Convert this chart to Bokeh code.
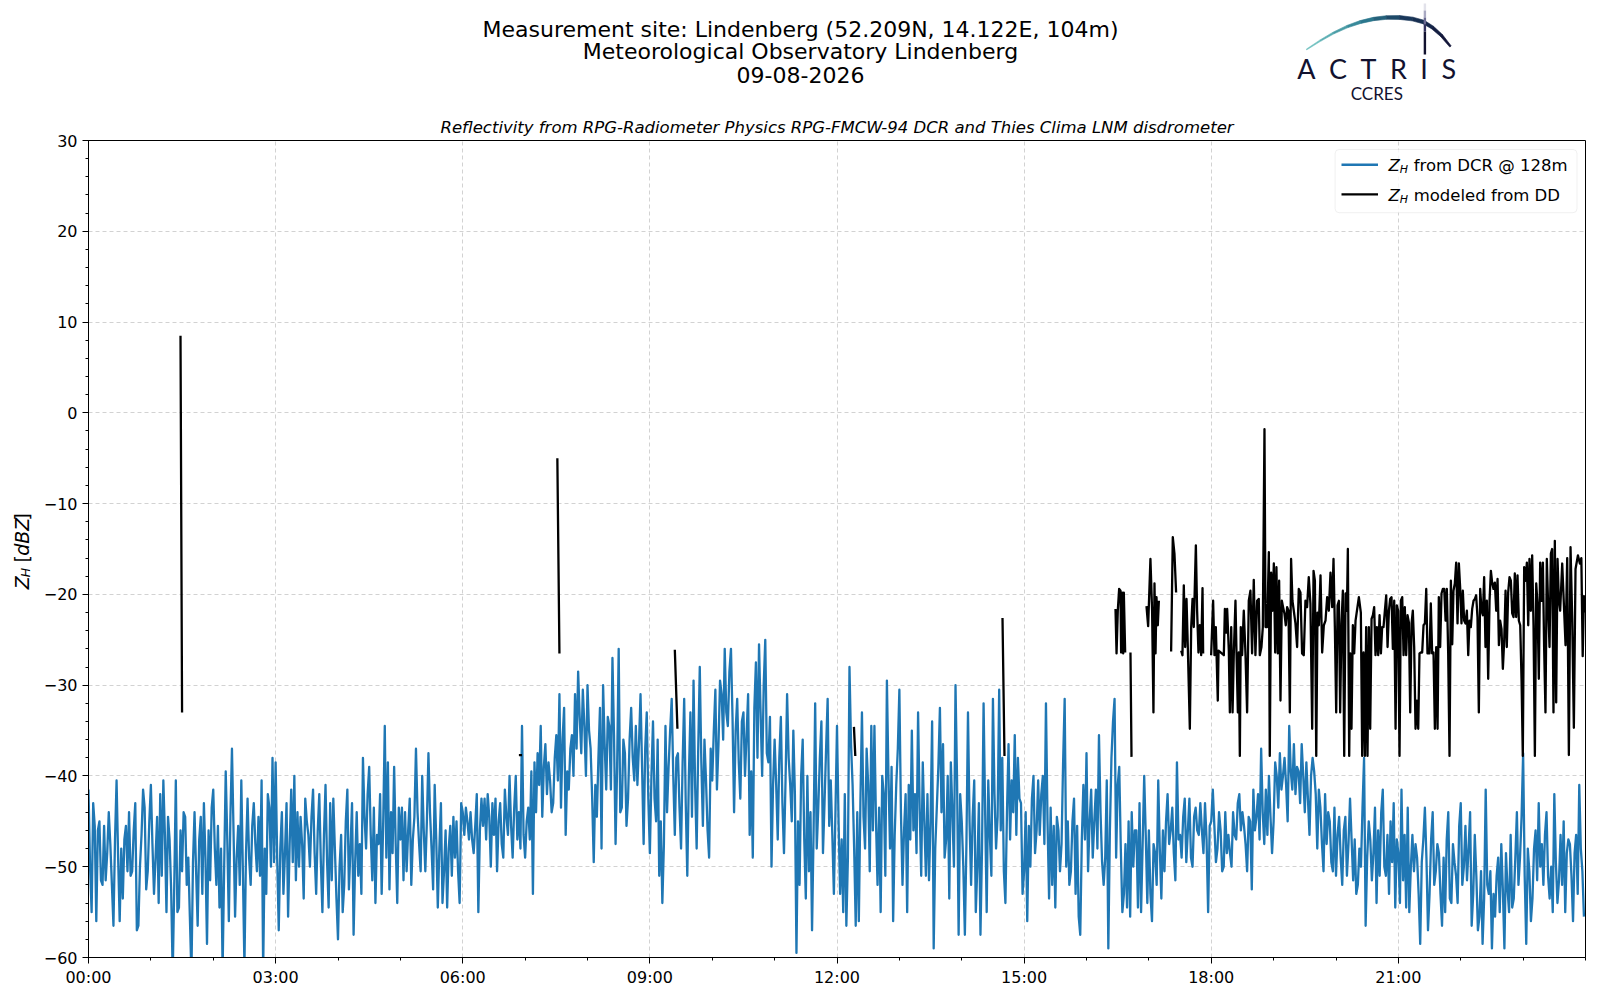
import numpy as np
from bokeh.plotting import figure
from bokeh.layouts import column, row
from bokeh.models import (Range1d, FixedTicker, Label, BoxAnnotation, ColumnDataSource)
from bokeh.core.properties import value
from bokeh.embed import file_html
from bokeh.resources import INLINE

# ---------------- data ----------------
# DCR reflectivity at 128 m: values at minutes 0, 3, 6, ... (20 per hour, one row per hour)
dcr_on_h00_05 = [
    -41.5, -55.0, -45.5, -46.0, -51.5, -45.5, -48.5, -47.5, -56.5, -40.5, -56.0, -53.5, -45.5, -44.0, -50.5, -43.0, -56.5, -46.5, -43.5, -50.5,
    -41.0, -53.0, -44.5, -42.0, -40.5, -55.0, -47.0, -62.0, -40.5, -54.5, -50.5, -44.5, -49.0, -62.0, -44.0, -56.5, -44.5, -43.0, -58.5, -51.5,
    -41.5, -52.0, -54.5, -61.5, -39.5, -56.0, -37.0, -55.5, -45.5, -40.5, -61.0, -42.5, -52.0, -43.0, -50.5, -51.0, -61.5, -53.0, -43.5, -38.0,
    -38.5, -57.0, -44.0, -48.5, -55.5, -41.5, -40.0, -44.0, -44.5, -53.5, -45.0, -50.0, -41.5, -53.0, -42.0, -55.0, -41.0, -54.5, -51.5, -48.0,
    -58.0, -46.5, -52.0, -41.5, -48.0, -57.5, -44.0, -47.5, -38.0, -48.0, -39.0, -51.5, -54.0, -47.5, -53.0, -34.5, -38.5, -44.0, -39.0, -54.0,
    -47.0, -51.5, -50.5, -42.5, -47.0, -37.0, -47.5, -40.0, -50.5, -37.5, -48.0, -41.0, -54.5, -43.0, -50.5, -54.5, -45.5, -44.5, -45.0, -54.0,
]
dcr_on_h06_11 = [
    -44.0, -43.5, -47.0, -47.0, -45.5, -55.0, -42.5, -42.5, -42.0, -50.0, -46.5, -50.5, -43.0, -49.0, -44.5, -40.0, -49.0, -40.0, -44.0, -34.5,
    -49.0, -43.5, -39.5, -38.5, -37.5, -34.5, -39.0, -42.0, -40.5, -43.0, -35.5, -31.0, -36.0, -46.5, -41.5, -35.5, -31.0, -28.5, -37.5, -34.5,
    -30.0, -37.0, -49.5, -44.5, -32.5, -30.0, -41.5, -34.5, -27.0, -47.5, -26.0, -43.5, -37.5, -42.5, -32.5, -40.5, -41.0, -31.0, -47.5, -33.0,
    -48.5, -34.0, -45.0, -51.0, -54.0, -34.5, -39.0, -31.5, -46.5, -37.5, -48.0, -31.5, -51.0, -33.0, -29.5, -48.0, -28.0, -45.5, -40.5, -49.0,
    -40.5, -30.5, -36.5, -31.0, -26.0, -34.5, -26.0, -44.0, -31.5, -42.5, -33.0, -35.5, -46.5, -49.0, -27.5, -25.5, -40.0, -25.0, -38.5, -50.0,
    -36.0, -47.0, -33.5, -48.5, -31.0, -41.0, -35.0, -59.5, -52.0, -36.0, -53.5, -50.5, -57.0, -32.0, -43.5, -34.0, -43.0, -31.5, -40.5, -53.0,
]
dcr_on_h12_17 = [
    -34.5, -53.0, -55.0, -56.5, -28.0, -41.0, -56.5, -56.0, -33.0, -48.0, -41.0, -34.5, -34.5, -52.0, -55.0, -42.0, -29.5, -48.0, -56.0, -41.0,
    -30.5, -52.0, -42.0, -41.0, -35.0, -42.0, -33.0, -51.0, -45.0, -42.0, -45.0, -59.0, -43.5, -32.5, -36.5, -47.0, -53.5, -44.0, -30.0, -57.5,
    -45.0, -57.5, -33.0, -52.0, -40.5, -50.0, -57.5, -32.0, -55.0, -46.5, -31.5, -48.0, -30.5, -38.0, -54.0, -36.5, -40.5, -35.5, -38.0, -43.0,
    -50.5, -56.0, -50.0, -40.0, -46.0, -46.5, -40.0, -32.0, -53.5, -52.0, -54.5, -46.0, -47.5, -31.5, -45.0, -50.5, -42.5, -45.5, -57.5, -41.0,
    -37.5, -45.0, -49.0, -41.5, -35.5, -49.5, -49.0, -59.0, -38.0, -31.5, -41.0, -48.0, -53.0, -54.5, -55.5, -50.0, -46.0, -43.0, -47.5, -46.5,
    -46.0, -56.0, -48.5, -40.5, -53.5, -50.5, -42.0, -46.0, -48.5, -38.5, -46.5, -44.5, -49.5, -42.5, -50.0, -43.5, -46.5, -46.0, -43.0, -55.0,
]
dcr_on_h18_23 = [
    -45.0, -45.5, -48.0, -46.0, -50.0, -48.5, -48.5, -44.0, -47.0, -42.0, -44.0, -47.5, -44.5, -52.5, -46.0, -42.0, -37.0, -47.5, -46.5, -44.5,
    -45.0, -40.0, -37.5, -40.0, -41.0, -34.5, -41.5, -42.0, -39.5, -36.5, -44.0, -42.5, -40.0, -39.5, -48.0, -43.5, -50.5, -47.5, -45.0, -50.5,
    -51.0, -44.5, -52.0, -44.5, -47.5, -47.0, -47.0, -52.0, -50.0, -38.0, -49.0, -47.0, -48.5, -54.0, -51.0, -41.5, -51.0, -53.0, -49.5, -54.5,
    -48.5, -41.5, -46.5, -43.5, -50.0, -50.5, -49.0, -58.5, -47.0, -49.0, -53.0, -44.0, -50.5, -48.5, -56.5, -55.0, -44.0, -54.0, -49.5, -54.0,
    -43.0, -50.0, -51.5, -44.0, -53.0, -51.0, -55.5, -58.5, -41.5, -53.0, -59.0, -55.5, -49.0, -47.5, -59.0, -52.5, -46.5, -53.5, -44.0, -49.0,
    -37.5, -58.5, -50.5, -53.5, -46.0, -43.0, -47.5, -46.5, -51.0, -50.0, -42.0, -54.0, -46.5, -45.0, -48.5, -47.5, -56.0, -46.5, -41.0, -50.5,
]
# DCR reflectivity at minutes 1.5, 4.5, 7.5, ... (20 per hour, one row per hour)
dcr_half_h00_05 = [
    -50.0, -43.0, -56.0, -45.0, -52.0, -51.5, -44.0, -52.0, -47.0, -49.0, -48.0, -47.0, -50.5, -51.0, -46.0, -57.0, -50.0, -41.5, -52.5, -45.0,
    -47.5, -49.0, -54.0, -51.0, -46.5, -44.5, -52.5, -52.0, -55.0, -46.0, -44.0, -52.0, -55.5, -49.5, -50.5, -47.0, -53.0, -49.0, -46.0, -43.5,
    -48.0, -45.5, -48.0, -50.0, -47.0, -44.5, -46.0, -49.0, -52.0, -50.5, -48.5, -49.0, -45.5, -47.5, -44.5, -40.5, -48.0, -42.0, -50.0, -49.5,
    -49.0, -48.0, -53.0, -43.0, -47.5, -49.5, -51.5, -50.0, -47.5, -42.5, -46.5, -44.5, -48.5, -46.0, -49.5, -46.5, -49.5, -43.0, -42.5, -53.5,
    -50.0, -55.0, -45.0, -52.5, -43.0, -49.5, -51.0, -53.0, -44.5, -42.0, -46.5, -43.5, -46.5, -42.0, -45.0, -49.0, -52.5, -48.5, -47.5, -43.5,
    -43.5, -44.0, -46.0, -52.0, -44.5, -44.0, -50.5, -46.0, -45.0, -44.0, -52.5, -47.0, -48.0, -54.0, -46.0, -48.0, -51.0, -49.0, -50.5, -43.0,
]
dcr_half_h06_11 = [
    -46.5, -45.0, -44.0, -48.5, -42.0, -46.0, -45.5, -47.0, -44.5, -43.0, -42.5, -45.0, -47.5, -41.5, -46.5, -45.5, -43.5, -47.0, -48.0, -46.5,
    -45.0, -47.0, -53.0, -44.0, -41.0, -44.5, -36.5, -38.5, -44.0, -38.0, -40.5, -43.5, -32.5, -39.5, -37.0, -40.0, -37.0, -33.5, -30.5, -40.0,
    -35.0, -42.5, -41.0, -38.0, -48.0, -36.5, -33.5, -41.5, -35.5, -39.0, -44.0, -36.0, -45.5, -36.0, -38.0, -34.5, -36.5, -39.0, -37.0, -42.5,
    -40.0, -42.5, -36.0, -45.0, -47.5, -44.0, -35.0, -40.0, -38.0, -43.5, -38.5, -43.0, -40.0, -44.5, -41.0, -37.0, -38.5, -36.0, -46.0, -37.0,
    -35.0, -41.5, -29.5, -36.0, -33.0, -28.5, -33.5, -35.0, -38.5, -34.0, -40.0, -31.0, -39.5, -32.5, -38.0, -33.0, -30.0, -37.5, -33.5, -41.0,
    -41.0, -38.0, -43.0, -40.5, -38.0, -45.0, -42.0, -45.0, -40.0, -47.0, -40.0, -44.0, -46.0, -48.0, -38.0, -48.5, -37.0, -45.5, -46.5, -44.0,
]
dcr_half_h12_17 = [
    -45.0, -47.0, -42.0, -49.0, -36.5, -48.0, -44.0, -43.0, -44.5, -37.0, -50.5, -46.0, -45.0, -43.5, -40.0, -51.0, -40.0, -39.0, -46.5, -37.0,
    -44.0, -46.0, -55.0, -47.0, -46.0, -48.5, -43.5, -38.5, -51.0, -51.5, -34.0, -48.0, -39.0, -44.0, -49.0, -40.0, -38.5, -50.0, -40.5, -42.0,
    -50.0, -47.5, -45.0, -44.5, -55.0, -43.0, -48.0, -44.0, -40.5, -51.0, -42.0, -44.5, -46.0, -50.5, -44.0, -47.0, -44.0, -46.5, -42.5, -53.0,
    -44.0, -45.5, -42.5, -48.5, -40.5, -42.0, -47.5, -45.0, -43.5, -45.5, -44.5, -50.5, -38.5, -50.0, -52.0, -45.0, -53.0, -55.5, -47.0, -47.0,
    -50.5, -41.5, -45.0, -48.0, -44.0, -52.0, -40.5, -46.0, -34.0, -49.0, -39.0, -55.0, -47.5, -45.0, -44.0, -46.0, -54.5, -55.0, -40.0, -54.0,
    -53.0, -47.5, -52.0, -48.0, -46.0, -45.0, -47.5, -43.5, -51.5, -47.0, -49.0, -42.5, -46.0, -49.0, -44.5, -46.0, -43.0, -48.5, -47.0, -45.5,
]
dcr_half_h18_23 = [
    -41.5, -49.5, -44.0, -50.5, -44.0, -46.5, -50.0, -46.5, -43.0, -46.0, -45.5, -50.5, -45.0, -41.5, -44.5, -47.0, -44.0, -41.5, -40.0, -48.5,
    -38.5, -43.5, -41.5, -38.0, -45.0, -39.5, -36.5, -39.0, -43.0, -40.0, -38.5, -46.5, -38.0, -42.0, -41.5, -47.5, -42.0, -44.0, -49.5, -43.5,
    -46.5, -49.0, -46.0, -51.0, -42.5, -51.5, -53.0, -48.0, -43.5, -56.5, -45.0, -51.5, -43.5, -46.0, -44.0, -50.0, -46.5, -45.0, -43.0, -47.0,
    -54.0, -51.5, -54.5, -55.0, -46.5, -47.5, -53.0, -49.5, -43.5, -57.0, -47.0, -52.0, -47.5, -53.0, -49.0, -47.0, -53.5, -47.5, -51.0, -45.5,
    -52.0, -45.5, -48.0, -56.5, -46.5, -57.0, -50.5, -53.5, -52.0, -50.5, -53.0, -51.0, -55.0, -52.5, -48.5, -55.0, -54.5, -49.0, -52.0, -44.5,
    -51.0, -48.0, -56.0, -48.0, -51.5, -50.0, -52.0, -44.0, -53.5, -55.0, -49.5, -51.5, -52.0, -55.0, -47.0, -51.0, -48.5, -53.0, -48.0, -55.5,
]
dcr_on = dcr_on_h00_05 + dcr_on_h06_11 + dcr_on_h12_17 + dcr_on_h18_23
dcr_half = dcr_half_h00_05 + dcr_half_h06_11 + dcr_half_h12_17 + dcr_half_h18_23
assert len(dcr_on) == 480 and len(dcr_half) == 480, (len(dcr_on), len(dcr_half))
dcr_minutes = []
dcr_dbz = []
for k in range(480):
    dcr_minutes += [3.0 * k, 3.0 * k + 1.5]
    dcr_dbz += [dcr_on[k], dcr_half[k]]

# Disdrometer-modelled reflectivity (minutes of day, dBZ); None = no data
dd_minutes = [
    88.5, 90.0, None, 414.0, 417.0, None, 451.0, 453.0, None, 564.0, 566.5, None,
    736.3, 737.6, None, 879.2, 881.1, None,
    987.9, 988.9, 990.1, 991.4, 992.7, 993.3, 994.3, 995.3, 995.9, 997.2, None,
    1002.3, 1003.3, None,
    1017.7, 1019.3, 1021.5, 1023.1, 1024.4, 1025.4, 1026.4, 1027.3, 1028.6, 1029.6, None,
    1041.4, 1043.0, 1044.6, 1046.2, None,
    1051.1, 1052.3, 1053.6, 1054.9, 1056.2, 1057.5, 1059.4, 1060.7, 1062.0, 1063.2, 1065.2, 1066.4,
    1067.7, 1069.0, 1070.3, 1071.6, 1072.2, None,
    1079.9, 1081.8, 1083.1, 1084.4, 1086.3, 1087.0, 1092.1, 1093.1, 1094.4, 1095.3, 1096.9, 1097.9,
    1099.2, 1100.5, 1101.7, 1103.3, 1104.3, 1105.6, 1106.5, 1107.5, 1108.4, 1109.7, 1111.3, 1112.9,
    1114.5, 1116.1, 1117.7, 1119.3, 1120.9, 1122.5, 1124.1, 1125.7, 1126.7, 1128.3, 1129.6, 1131.2,
    1132.2, 1133.8, 1135.4, 1136.3, 1137.6, 1138.9, 1140.2, 1141.5, 1142.7, 1144.0, 1145.3, 1146.6,
    1147.9, 1149.1, 1150.4, 1151.7, 1153.0, 1154.3, 1155.6, 1156.8, 1158.1, 1159.4, 1161.0, 1162.6,
    1164.2, 1165.8, 1167.4, 1169.0, 1170.6, 1172.2, 1173.8, 1175.4,
    1177.1, 1178.4, 1179.7, 1181.0, 1182.2, 1183.5, 1185.1, 1186.7, 1188.3, 1189.9, 1191.5, 1193.1,
    1194.7, 1196.3, 1197.6, 1198.9, 1200.2, 1201.5, 1202.8, 1204.0, 1205.3, 1206.6, 1207.9, 1209.2,
    1210.5, 1211.4, 1212.7, 1213.7, 1214.9, 1216.2, 1217.5, 1218.8,
    1222.0, 1223.9, 1225.2, 1226.5, 1227.8, 1229.0, 1230.3, 1231.6, 1232.9, 1234.2, 1235.5, 1236.7,
    1238.0, 1239.3, 1240.6, 1241.9, 1243.2, 1244.4, 1245.7, 1247.0, 1248.3, 1249.6, 1250.9, 1252.1,
    1253.4, 1254.7, 1256.0, 1257.3, 1258.5, 1259.8, 1261.1, 1262.4, 1263.7, 1265.0, 1266.2, 1267.5,
    1268.8, 1270.1, 1271.4, 1272.7, 1273.9, 1275.2, 1276.5, 1277.8, 1279.1, 1280.3, 1281.6, 1282.9,
    1284.2, 1285.5, 1286.8, 1288.0, 1290.0, 1291.2, 1292.5, 1293.8, 1295.1, 1296.4, 1297.7, 1298.9,
    1300.2, 1301.5, 1302.8, 1304.1, 1305.4, 1306.6, 1307.9, 1309.2, 1310.5, 1311.8, 1313.0, 1314.3,
    1315.6, 1316.9, 1318.2, 1319.5, 1320.7, 1322.0, 1323.3, 1324.6, 1325.9, 1327.2, 1328.4, 1329.7,
    1331.0, 1332.3, 1333.6, 1334.8, 1336.1, 1337.4, 1338.7, 1340.0, 1341.3, 1342.5, 1343.8, 1345.1,
    1346.4, 1347.7, 1349.0, 1350.2, 1351.5, 1352.8, 1354.1, 1355.4, 1356.7, 1357.9, 1359.2, 1360.5,
    1361.8, 1363.1, 1364.3, 1365.6, 1366.9, 1368.2, 1369.5, 1370.8, 1372.0, 1373.3, 1374.6, 1375.9,
    1377.2, 1378.5, 1379.7, 1381.0, 1382.3, 1383.6, 1384.9, 1386.1, 1387.4, 1388.7, 1390.0, 1391.3,
    1392.6, 1393.8, 1395.1, 1396.4, 1397.7, 1399.0, 1400.2, 1401.5, 1402.8, 1404.1, 1405.4, 1406.7,
    1407.9, 1409.2, 1410.5, 1411.8, 1413.1, 1414.4, 1415.6,
    1417.6, 1420.8, 1422.4, 1424.0, 1425.6, 1427.2, 1428.8, 1430.4, 1432.7, 1434.6, 1436.0, 1437.3,
    1438.5, 1439.5,
]
dd_dbz = [
    8.5, -33.0, None, -37.7, -37.7, None, -5.0, -26.5, None, -26.1, -34.8, None,
    -34.6, -37.8, None, -22.6, -37.8, None,
    -21.6, -26.5, -21.8, -19.4, -19.6, -26.4, -19.8, -26.5, -19.8, -26.4, None,
    -26.4, -37.9, None,
    -21.3, -23.5, -16.1, -21.8, -33.0, -18.8, -26.5, -20.3, -23.4, -20.7, None,
    -26.3, -13.7, -15.5, -19.8, None,
    -26.2, -26.7, -19.0, -25.8, -20.5, -26.0, -34.8, -23.6, -20.5, -23.6, -14.6, -21.8,
    -26.4, -23.4, -26.7, -19.3, -26.5, None,
    -26.7, -20.7, -26.7, -23.6, -31.7, -26.2, -26.7, -21.6, -24.2, -21.6, -26.2, -33.0,
    -23.6, -33.0, -26.5, -20.7, -26.5, -33.0, -26.4, -37.8, -23.6, -26.7, -21.8, -26.5,
    -33.0, -20.7, -19.6, -26.5, -18.4, -26.7, -20.7, -20.5, -26.7, -25.8, -23.6, -1.8,
    -23.6, -23.6, -15.35, -37.8, -17.6, -21.8, -16.6, -26.4, -17.0, -26.5, -18.5, -31.7,
    -20.7, -21.4, -22.1, -23.4, -21.4, -21.8, -33.0, -16.1, -20.7, -21.8, -23.2, -25.8,
    -19.4, -19.8, -26.5, -26.7, -20.7, -21.4, -18.1, -21.0,
    -34.8, -17.4, -18.5, -37.8, -22.0, -23.4, -17.9, -26.4, -23.4, -22.9, -20.3, -21.8,
    -17.6, -21.4, -16.1, -23.6, -33.0, -21.2, -20.7, -33.0, -23.2, -19.6, -37.8, -19.9,
    -21.8, -15.0, -37.8, -26.5, -34.8, -23.4, -26.5, -22.9,
    -20.3, -22.0, -37.8, -26.4, -37.8, -23.6, -37.8, -23.6, -34.8, -22.7, -22.3, -21.4,
    -26.7, -23.6, -26.7, -22.3, -26.5, -23.6, -23.6, -21.8, -20.1, -25.8, -21.8, -20.5,
    -20.3, -26.0, -20.7, -34.8, -21.2, -21.8, -37.8, -20.7, -20.3, -26.7, -21.4, -26.7,
    -22.3, -23.1, -33.0, -23.2, -21.8, -25.8, -34.8, -31.7, -34.8, -26.5, -26.4, -26.4,
    -23.4, -23.2, -19.4, -26.5, -26.5, -21.0, -26.5, -26.4, -34.8, -25.8, -34.8, -20.3,
    -25.8, -19.9, -19.4, -19.4, -22.9, -19.4, -26.4, -37.8, -18.5, -25.5, -19.6, -18.8,
    -16.5, -23.2, -16.6, -19.4, -23.2, -19.6, -22.9, -23.2, -21.8, -26.7, -22.9, -23.6,
    -21.6, -20.7, -20.5, -20.1, -22.5, -33.0, -19.4, -21.8, -22.3, -18.1, -25.8, -20.7,
    -29.3, -20.7, -17.4, -18.7, -19.4, -18.7, -21.8, -18.3, -25.6, -22.9, -23.8, -28.2,
    -25.1, -19.6, -25.8, -19.8, -18.1, -18.5, -22.1, -22.5, -17.7, -22.5, -17.9, -22.9,
    -23.4, -29.5, -37.8, -17.0, -18.5, -16.5, -23.4, -16.1, -21.8, -15.7, -23.4, -37.8,
    -18.8, -21.0, -29.3, -16.5, -20.7, -16.5, -25.8, -33.0, -16.1, -21.4, -25.8, -15.5,
    -15.0, -33.0, -14.1, -31.9, -16.1, -20.7, -21.8,
    -16.6, -25.6, -16.0, -37.7, -14.8, -22.6, -34.7, -17.2, -15.7, -16.6, -16.0, -26.8,
    -20.2, -22.0,
]
assert len(dd_dbz) == len(dd_minutes), (len(dd_dbz), len(dd_minutes))

x_tick_hours = [0, 3, 6, 9, 12, 15, 18, 21]
x_tick_labels = ["00:00", "03:00", "06:00", "09:00", "12:00", "15:00", "18:00", "21:00"]
y_ticks = [-60, -50, -40, -30, -20, -10, 0, 10, 20, 30]
y_tick_labels = ["\u221260", "\u221250", "\u221240", "\u221230", "\u221220", "\u221210", "0", "10", "20", "30"]

title_lines = ["Measurement site: Lindenberg (52.209N, 14.122E, 104m)",
               "Meteorological Observatory Lindenberg",
               "09-08-2026"]
subtitle = "Reflectivity from RPG-Radiometer Physics RPG-FMCW-94 DCR and Thies Clima LNM disdrometer"
legend_texts = ["from DCR @ 128m", "modeled from DD"]

BLUE = "#1f77b4"
FONT = "DejaVu Sans"
NAVY = "#12122f"

# page layout (page pixel coordinates; frame of the main plot at x 88..1585, y 140..957)
HEAD_H = 110
BODY_H = 885
LEFT_W = 40
MAIN_W = 1560


def blank(width, height, x0, x1, y_top, y_bottom):
    f = figure(width=width, height=height, output_backend="svg", toolbar_location=None, tools="",
               x_range=Range1d(x0, x1), y_range=Range1d(-y_bottom, -y_top),
               x_axis_type=None, y_axis_type=None, min_border=0, title=None,
               background_fill_color="white", border_fill_color="white")
    f.outline_line_color = None
    return f


# text anchor = vertical centre of the capitals (as rendered here)
def txt(f, text, X, Y, size, style="normal", align="left", angle=0.0, color="black", font=FONT):
    f.text(x=[X], y=[-Y], text=[text], text_font=value(font), text_font_size=value(f"{size}px"),
           text_font_style=style, text_align=align, text_baseline="alphabetic",
           angle=angle, text_color=color)


# ---------------- header: titles and logo ----------------
head = blank(1600, HEAD_H, 0, 1600, 0, HEAD_H)
txt(head, title_lines[0], 800, 28.6, 22, align="center")
txt(head, title_lines[1], 800, 51.0, 22, align="center")
txt(head, title_lines[2], 800, 74.5, 22, align="center")

txt(head, "A\u2002C\u2002T\u2002R\u2002I\u2002S", 1296.7, 68.3, 27, font="Lato", color=NAVY)
txt(head, "CCRES", 1376.3, 92.8, 17, align="center", font="Lato", color=NAVY)

arc_pts = [(1306, 49), (1320, 40), (1333, 32.5), (1347, 26), (1360, 21.5), (1373, 18.5),
           (1386, 17), (1399, 17), (1412, 18.5), (1423, 21.5), (1432, 27), (1441, 35), (1450, 46)]
arc_w = [0.8, 1.4, 1.9, 2.4, 2.9, 3.3, 3.6, 3.8, 3.8, 3.6, 3.2, 2.6, 1.8]
stops = [(0.0, (112, 198, 194)), (0.35, (45, 126, 146)), (0.6, (26, 58, 92)), (1.0, (16, 16, 52))]


def grad(fr):
    for (f0, c0), (f1, c1) in zip(stops[:-1], stops[1:]):
        if fr <= f1:
            u = (fr - f0) / (f1 - f0)
            c = [round(a + (b - a) * u) for a, b in zip(c0, c1)]
            return "#%02x%02x%02x" % tuple(c)
    return "#%02x%02x%02x" % stops[-1][1]


P = np.array(arc_pts, dtype=float)
n = len(P)
normals = []
for i in range(n):
    a = P[max(i - 1, 0)]
    b = P[min(i + 1, n - 1)]
    t = (b - a) / np.hypot(*(b - a))
    normals.append(np.array([-t[1], t[0]]))
for i in range(n - 1):
    quad = [P[i] + normals[i] * arc_w[i] / 2, P[i + 1] + normals[i + 1] * arc_w[i + 1] / 2,
            P[i + 1] - normals[i + 1] * arc_w[i + 1] / 2, P[i] - normals[i] * arc_w[i] / 2]
    col = grad((i + 0.5) / (n - 1))
    head.patch(x=[q[0] for q in quad], y=[-q[1] for q in quad], fill_color=col,
               line_color=col, line_width=0.6)

stem = [(3, 10, "#e2e2ea"), (10, 17, "#a9a9c2"), (17, 24, "#6b6b92"), (24, 31, "#34345f"),
        (31, 54, NAVY)]
for y0, y1, c in stem:
    head.quad(left=[1423.2], right=[1425.6], top=[-y0], bottom=[-y1], fill_color=c, line_color=None)

# ---------------- left strip: y-axis label Z_H [dBZ] (reads upwards) ----------------
left = blank(LEFT_W, BODY_H, 0, LEFT_W, HEAD_H, HEAD_H + BODY_H)
A = np.pi / 2
DY = 4.5
LX = 21.9
txt(left, "Z", LX, 591.7 + DY, 19, style="italic", angle=A)
txt(left, "H", LX + 3.5, 578.7 + DY, 12.5, style="italic", angle=A)
txt(left, "[", LX, 562.7 + DY, 19, angle=A)
txt(left, "dBZ", LX, 555.3 + DY, 19, style="italic", angle=A)
txt(left, "]", LX, 517.2 + DY, 19, angle=A)

# ---------------- main plot ----------------
p = figure(width=MAIN_W, height=BODY_H, output_backend="svg", toolbar_location=None, tools="",
           x_range=Range1d(0, 24), y_range=Range1d(-60, 30), title=subtitle,
           min_border_left=88 - LEFT_W, min_border_right=1600 - 1585,
           min_border_top=140 - HEAD_H, min_border_bottom=HEAD_H + BODY_H - 957,
           background_fill_color="white", border_fill_color="white")
p.title.align = "center"
p.title.text_font = FONT
p.title.text_font_style = "italic"
p.title.text_font_size = "16.5px"
p.title.text_color = "black"
p.title.standoff = 7

dcr_src = ColumnDataSource(dict(h=np.array(dcr_minutes, dtype=float) / 60.0,
                                dbz=np.array(dcr_dbz, dtype=float)))
dd_src = ColumnDataSource(dict(h=np.array(dd_minutes, dtype=float) / 60.0,
                               dbz=np.array(dd_dbz, dtype=float)))
p.line(x="h", y="dbz", source=dcr_src, line_color=BLUE, line_width=2.3, line_join="round")
p.line(x="h", y="dbz", source=dd_src, line_color="black", line_width=2.3, line_join="round")

xt = FixedTicker(ticks=x_tick_hours, minor_ticks=list(range(0, 25)))
yt = FixedTicker(ticks=y_ticks, minor_ticks=list(range(-60, 31, 2)))
p.xaxis.ticker = xt
p.yaxis.ticker = yt
p.xgrid.ticker = xt
p.ygrid.ticker = yt
p.xaxis.major_label_overrides = dict(zip(x_tick_hours, x_tick_labels))
p.yaxis.major_label_overrides = dict(zip(y_ticks, y_tick_labels))
for ax in (p.xaxis, p.yaxis):
    ax.major_label_text_font = FONT
    ax.major_label_text_font_size = "16px"
    ax.major_label_text_color = "black"
    ax.axis_line_color = "black"
    ax.major_tick_line_color = "black"
    ax.minor_tick_line_color = "black"
    ax.major_tick_in = 0
    ax.major_tick_out = 6
    ax.minor_tick_in = 0
    ax.minor_tick_out = 3
p.xaxis.major_label_standoff = 4
p.yaxis.major_label_standoff = 5
for g in (p.xgrid, p.ygrid):
    g.grid_line_color = "#d2d2d2"
    g.grid_line_dash = "4 3"
    g.grid_line_width = 1
p.outline_line_color = "black"
p.outline_line_width = 1
p.outline_line_alpha = 1


# legend, drawn inside the frame (frame-relative screen coordinates)
def sx(X):
    return X - 88.0


def sy(Y):
    return 957.0 - Y


def lab(text, X, Y, size, style="normal"):
    p.add_layout(Label(x=sx(X), y=sy(Y), x_units="screen", y_units="screen", text=text,
                       text_font=FONT, text_font_size=f"{size}px", text_font_style=style,
                       text_align="left", text_baseline="alphabetic", text_color="black"))


p.add_layout(BoxAnnotation(left=sx(1334.6), right=sx(1576.5), top=sy(149), bottom=sy(212.2),
                           left_units="screen", right_units="screen", top_units="screen",
                           bottom_units="screen", fill_color="white", fill_alpha=0.8,
                           line_color="#cccccc", line_width=1, border_radius=4))
for i, (col, ytxt) in enumerate([(BLUE, 164.3), ("black", 193.9)]):
    p.add_layout(BoxAnnotation(left=sx(1341), right=sx(1377.5), top=sy(ytxt - 1.2),
                               bottom=sy(ytxt + 1.2), left_units="screen", right_units="screen",
                               top_units="screen", bottom_units="screen", fill_color=col,
                               fill_alpha=1, line_color=None))
    lab("Z", 1388.0, ytxt + 1.0, 16.5, style="italic")
    lab("H", 1399.3, ytxt + 5.0, 11, style="italic")
    lab(legend_texts[i], 1413.2, ytxt + 1.0, 16.5)

layout = column(head, row(left, p))
open("out.html", "w").write(file_html(layout, INLINE))
